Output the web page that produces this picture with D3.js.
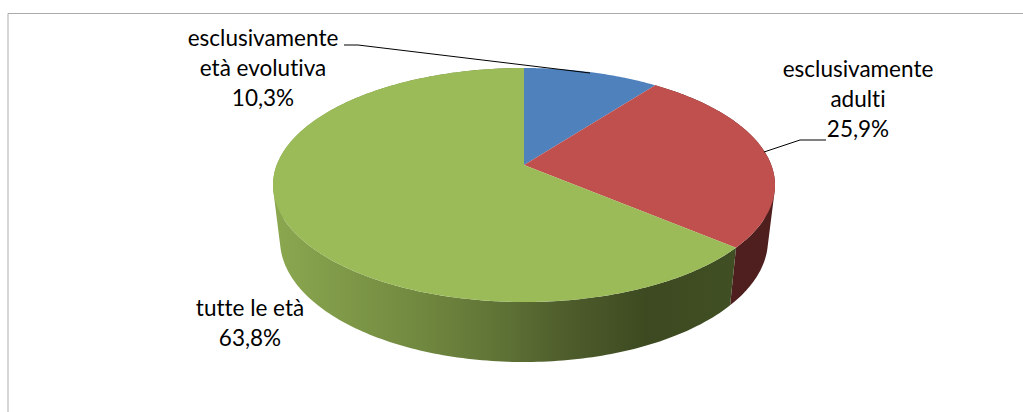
<!DOCTYPE html>
<html><head><meta charset="utf-8">
<script src="https://cdn.jsdelivr.net/npm/d3@7"></script>
<style>html,body{margin:0;padding:0;background:#fff}svg{display:block}</style>
</head><body><script>
const categories = ["esclusivamente età evolutiva", "esclusivamente adulti", "tutte le età"];
const values = [10.3, 25.9, 63.8];
const topColors = ["#4F81BD", "#C0504D", "#9BBB59"];
const labelLines = [["esclusivamente","età evolutiva","10,3%"],["esclusivamente","adulti","25,9%"],["tutte le età","63,8%"]];
const labelAnchors = [[263,46],[858,77],[250,316]];
const leaders = [[[344,45],[358,45],[590,73]],[[764,152],[800,140],[826,140]]];
const W=1023,H=412;
const svg=d3.select("body").append("svg").attr("width",W).attr("height",H);
const defs=svg.append("defs");
const gGreen=defs.append("linearGradient").attr("id","wall2").attr("gradientUnits","userSpaceOnUse").attr("x1",273).attr("x2",740).attr("y1",0).attr("y2",0);
[[0,"#8BA850"],[.3,"#728A40"],[.5,"#5E7135"],[.62,"#4F5E2C"],[.8,"#3D4A21"],[1,"#414F24"]].forEach(s=>gGreen.append("stop").attr("offset",s[0]).attr("stop-color",s[1]));
const gRed=defs.append("linearGradient").attr("id","wall1").attr("gradientUnits","userSpaceOnUse").attr("x1",730).attr("x2",775).attr("y1",0).attr("y2",0);
[[0,"#4E1F1E"],[1,"#4F1F1E"]].forEach(s=>gRed.append("stop").attr("offset",s[0]).attr("stop-color",s[1]));

// perspective projection of the flat disc
const project=(cx,cy,a,b,p)=>t=>{const u=Math.sin(t),v=-Math.cos(t),d=1+p*v;return [cx+a*u/d,cy+b*v/d];};
const P=-0.171;
const topP=project(524,165,247.3,113.6,P);
const botP=project(524,219.2,240.4,118.4,P);
const pie=d3.pie().sort(null)(values);
const line=d3.line();
const rad=Math.PI/180;
// walls: one path per slice, every quad wound the same way so they merge without seams
[1,2].forEach(i=>{
  const s=pie[i];
  const steps=d3.range(s.startAngle,s.endAngle,rad).concat([s.endAngle]);
  const d=d3.pairs(steps).map(q=>{
    const poly=[topP(q[0]),topP(q[1]),botP(q[1]),botP(q[0])];
    if(d3.polygonArea(poly)<0) poly.reverse();
    return line(poly)+"Z";
  }).join("");
  svg.append("path").attr("d",d).attr("fill",`url(#wall${i})`).attr("fill-rule","nonzero");
});
// top
svg.append("g").selectAll("path").data(pie).join("path")
  .attr("d",s=>{const st=d3.range(s.startAngle,s.endAngle,rad/2).concat([s.endAngle]);
     return line([[524,165]].concat(st.map(topP)))+"Z";})
  .attr("fill",(s,i)=>topColors[i]);
// frame
svg.append("path").attr("d",d3.line()([[8,412],[8,13.5],[1023,13.5]])).attr("fill","none").attr("stroke","#ababab").attr("stroke-width",1);
// leaders
svg.append("g").selectAll("path").data(leaders).join("path").attr("d",d=>line(d)).attr("fill","none").attr("stroke","#000").attr("stroke-width",1);
// labels
labelLines.forEach((ls,i)=>{
  svg.append("text").attr("x",labelAnchors[i][0]).attr("y",labelAnchors[i][1]).attr("text-anchor","middle")
   .attr("font-family","Lato, 'Open Sans', sans-serif").attr("font-size",22.5).attr("fill","#000")
   .style("font-variant-ligatures","none")
   .selectAll("tspan").data(ls).join("tspan").attr("x",labelAnchors[i][0]).attr("dy",(d,j)=>j?30:0).text(d=>d);
});
</script></body></html>
